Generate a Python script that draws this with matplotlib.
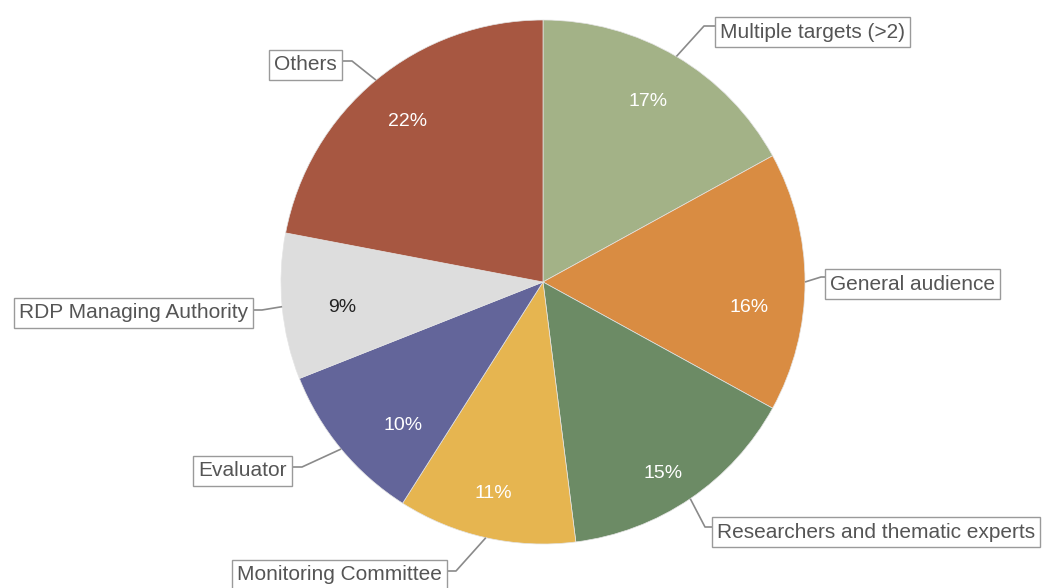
import numpy as np
import matplotlib.pyplot as plt

plt.rcParams['font.family'] = ['Liberation Sans', 'DejaVu Sans']

# Data
labels = ["Multiple targets (>2)", "General audience", "Researchers and thematic experts",
          "Monitoring Committee", "Evaluator", "RDP Managing Authority", "Others"]
shares = [17, 16, 15, 11, 10, 9, 22]
colors = ["#a3b287", "#d98c42", "#6c8b65", "#e6b550", "#63659a", "#dddddd", "#a75741"]
pct_colors = ["white", "white", "white", "white", "white", "#222222", "white"]

# Layout in image pixels (y from top)
W, H = 1043, 588
cx, cy, r = 543, 282, 262
pct_pos = [(648, 102), (749, 307), (663, 473), (493, 493), (403, 426), (342, 308), (408, 122)]
# text anchor x, text center y, ha, elbow x, elbow y
label_pos = [
    (720, 32, 'left', 704, 26),
    (830, 284, 'left', 821, 277),
    (717, 532, 'left', 705, 527),
    (442, 575, 'right', 456, 571),
    (287, 471, 'right', 302, 467),
    (248, 313, 'right', 262, 310),
    (337, 65, 'right', 352, 61),
]

fig = plt.figure(figsize=(W / 100, H / 100), dpi=100)
ax = fig.add_axes([0, 0, 1, 1])

wedges, texts, autotexts = ax.pie(
    shares, colors=colors, startangle=90, counterclock=False,
    center=(cx, H - cy), radius=r, autopct='%d%%', pctdistance=0.79,
    wedgeprops=dict(edgecolor='#e4e4e4', linewidth=0.5),
    textprops=dict(fontsize=14))

for t, (px, py), c in zip(autotexts, pct_pos, pct_colors):
    t.set_position((px, H - py))
    t.set_color(c)
    t.set_ha('center')
    t.set_va('center')

for w, lab, (tx, ty, ha, elx, ely) in zip(wedges, labels, label_pos):
    mid = np.deg2rad((w.theta1 + w.theta2) / 2)
    ex = cx + r * np.cos(mid)
    ey = (H - cy) + r * np.sin(mid)
    ax.plot([ex, elx, tx], [ey, H - ely, H - ely], color='#8a8a8a', lw=1.2,
            zorder=3, solid_capstyle='butt')
    ax.text(tx, H - ty, lab, ha=ha, va='center', fontsize=15, color='#555555',
            zorder=4,
            bbox=dict(boxstyle='square,pad=0.25', facecolor='white',
                      edgecolor='#9a9a9a', linewidth=1.0))

ax.set_xlim(0, W)
ax.set_ylim(0, H)
ax.set_aspect('equal')
ax.axis('off')

fig.savefig('out.png', dpi=100)
